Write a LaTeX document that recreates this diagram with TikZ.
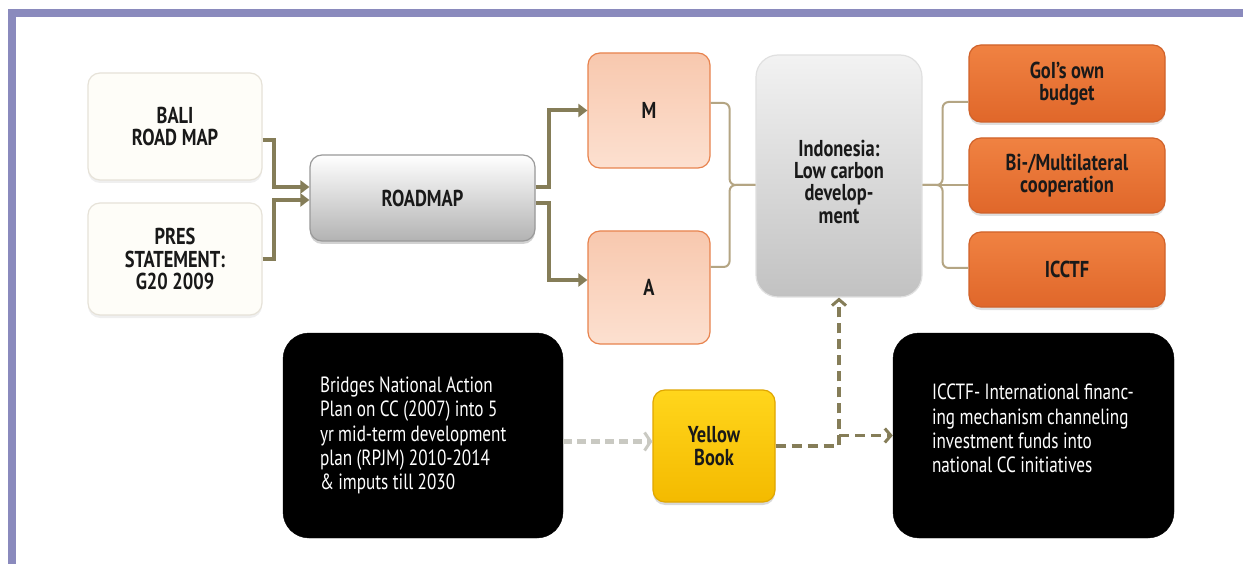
\documentclass[tikz,border=0pt]{standalone}
\usepackage{fontspec}
\setmainfont{PT Sans}
\newfontfamily\lblfont{PT Sans}[FakeStretch=0.8]
\newfontfamily\bodyfont{PT Sans}[FakeStretch=0.78]
\newcommand\lblsetup{\lblfont\bfseries\fontsize{23}{22.3}\selectfont}
\newcommand\bodysetup{\bodyfont\fontsize{22}{24.4}\selectfont}
\newcommand\lsp{\spaceskip=4.6pt plus 1pt minus 1pt\relax}
\newcommand\bsp{\spaceskip=4.4pt plus 1pt minus 1pt\relax}
\usetikzlibrary{arrows.meta,shadows,calc}
\definecolor{frame}{HTML}{8A8ABD}
\definecolor{olive}{HTML}{857D58}
\definecolor{brk}{HTML}{B4A583}
\definecolor{peachT}{HTML}{F8C8AE}
\definecolor{peachB}{HTML}{FCE0D0}
\definecolor{peachD}{HTML}{E8834E}
\definecolor{orgT}{HTML}{F08242}
\definecolor{orgB}{HTML}{E0672A}
\definecolor{orgD}{HTML}{D0622A}
\definecolor{ylwT}{HTML}{FFD61C}
\definecolor{ylwB}{HTML}{F4BA00}
\definecolor{ylwD}{HTML}{E0A600}
\definecolor{creamF}{HTML}{FEFDF8}
\definecolor{creamD}{HTML}{E6E2D8}
\definecolor{dgrey}{HTML}{C9C9C2}
\begin{document}
\begin{tikzpicture}[x=1pt,y=-1pt,
  lbl/.style={font=\lblsetup, align=center, text=black!90},
  box/.style={rounded corners=12pt, inner sep=0pt, draw, line width=1.2pt},
  cream/.style={box, fill=creamF, draw=creamD, drop shadow={opacity=0.12,shadow xshift=0pt,shadow yshift=-3pt}},
  greybar/.style={box, top color=white, bottom color=black!30, draw=black!40, drop shadow={opacity=0.35,shadow xshift=0pt,shadow yshift=-3pt}},
  peach/.style={box, top color=peachT, bottom color=peachB, draw=peachD},
  orange/.style={box, top color=orgT, bottom color=orgB, draw=orgD, drop shadow={opacity=0.25,shadow xshift=0pt,shadow yshift=-3pt}},
  tall/.style={box, rounded corners=22pt, top color=black!5, bottom color=black!24, draw=black!12},
  yellowbox/.style={box, top color=ylwT, bottom color=ylwB, draw=ylwD, drop shadow={opacity=0.3,shadow xshift=0pt,shadow yshift=-3pt}},
  blackbox/.style={rounded corners=26pt, fill=black, draw=black, text=white, align=left,
     font=\bodysetup, minimum height=205pt},
  conn/.style={draw=olive, line width=4pt, -{Triangle[length=9pt,width=13pt]}},
  brack/.style={draw=brk, line width=2pt, rounded corners=6pt},
  dconn/.style={draw=olive, line width=3.5pt, dash pattern=on 10pt off 6pt, -{Straight Barb[length=6pt,width=14pt,line width=3pt]}},
  gconn/.style={draw=dgrey, line width=4.5pt, dash pattern=on 9pt off 5pt, -{Straight Barb[length=6pt,width=18pt,line width=3pt]}}
]
\useasboundingbox (0,0) rectangle (1243,564);
\fill[white] (0,0) rectangle (1243,564);
% frame
\fill[frame] (8,9) rectangle (1243,17);
\fill[frame] (8,9) rectangle (16,564);

% nodes
\node[cream, lbl, minimum width=174pt, minimum height=107pt] (bali) at (175,126.5) {\lsp BALI\\ROAD MAP};
\node[cream, lbl, minimum width=174pt, minimum height=112pt] (pres) at (175,259) {\lsp PRES\\STATEMENT:\\G20 2009};
\node[greybar, lbl, minimum width=225pt, minimum height=86pt] (road) at (422.5,198) {ROADMAP};
\node[peach, lbl, minimum width=122pt, minimum height=115pt] (m) at (649,110.5) {M};
\node[peach, lbl, minimum width=122pt, minimum height=113pt] (a) at (649,287.5) {A};
\node[tall, lbl, minimum width=166pt, minimum height=242pt] (indo) at (839,176) {\lsp\rule{0pt}{28pt}Indonesia:\\Low carbon\\develop-\\ment};
\node[orange, lbl, minimum width=196pt, minimum height=77pt] (gol) at (1067,83.5) {\lsp GoI’s own\\budget};
\node[orange, lbl, minimum width=196pt, minimum height=75pt] (bi) at (1067,175.5) {Bi-/Multilateral\\cooperation};
\node[orange, lbl, minimum width=196pt, minimum height=75pt] (icctf) at (1067,269.5) {ICCTF};
\node[blackbox, text width=206pt, inner xsep=37pt] (nap) at (423,435.5) {\bsp Bridges National Action\\Plan on CC (2007) into 5\\yr mid-term development\\plan (RPJM) 2010-2014\\\& imputs till 2030};
\node[yellowbox, lbl, minimum width=122pt, minimum height=112pt] (yb) at (714,446) {Yellow\\Book};
\node[blackbox, text width=203pt, inner xsep=39pt] (fin) at (1033.5,435.5) {\bsp ICCTF- International financ-\\ing mechanism channeling\\investment funds into\\national CC initiatives\rule[-14pt]{0pt}{14pt}};

% solid connectors
\draw[conn] ([yshift=-13.5pt]bali.east) -- ++(11,0) |- ([yshift=11pt]road.west);
\draw[conn] (pres.east) -- ++(11,0) |- ([yshift=-2pt]road.west);
\draw[conn] ([yshift=11pt]road.east) -- ++(13,0) |- (m.west);
\draw[conn] ([yshift=-5pt]road.east) -- ++(13,0) |- ([yshift=7.5pt]a.west);

% brackets
\draw[brack] ([yshift=7.5pt]m.east) -- ++(19,0) |- ([yshift=-9pt]indo.west);
\draw[brack] ([yshift=20.5pt]a.east) -- ++(19,0) |- ([yshift=-9pt]indo.west);
\draw[brack] ([yshift=-9pt]indo.east) -- ++(20,0) |- ([yshift=-18.5pt]gol.west);
\draw[brack] ([yshift=-9pt]indo.east) -- ++(20,0) |- ([yshift=1.5pt]icctf.west);
\draw[brack] ([yshift=-9pt]indo.east) -- ([yshift=-9.5pt]bi.west);

% dashed connectors
\draw[gconn] ([yshift=-6pt]nap.east) -- ([yshift=-6pt]nap.east -| yb.west);
\draw[dconn] (yb.east) -| (indo.south);
\draw[dconn] (indo.south |- fin.west) -- (fin.west);
\end{tikzpicture}
\end{document}
